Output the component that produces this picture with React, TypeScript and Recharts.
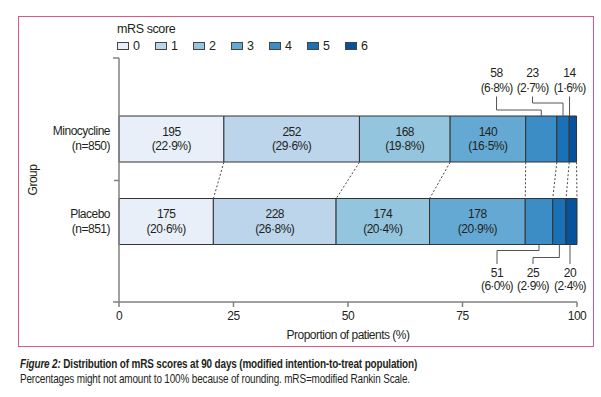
import React from 'react';
import {
  BarChart,
  Bar,
  XAxis,
  YAxis,
  Legend,
  LabelList,
  ReferenceLine,
} from 'recharts';

const groups = ['Minocycline', 'Placebo'];
const groupSizes = ['(n=850)', '(n=851)'];
const scores = ['0', '1', '2', '3', '4', '5', '6'];
const minocyclineCounts = [195, 252, 168, 140, 58, 23, 14];
const minocyclinePct = [22.9, 29.6, 19.8, 16.5, 6.8, 2.7, 1.6];
const placeboCounts = [175, 228, 174, 178, 51, 25, 20];
const placeboPct = [20.6, 26.8, 20.4, 20.9, 6.0, 2.9, 2.4];
const xTicks = [0, 25, 50, 75, 100];

const colors = ['#e8eff8', '#bcd5eb', '#93c5de', '#64a9d3', '#3c8cc6', '#1b71b6', '#08519b'];

const FONT = '"Liberation Sans", Arial, sans-serif';
const TEXT = '#231f20';
const AXIS = '#808080';
const BAR_SIZE = 46;

// small segments get their labels outside the bar, in fixed columns from the bar end
const labelColumn: Record<number, number> = { 4: 80, 5: 44, 6: 7 };
const elbowDepth: Record<number, number> = { 4: 6, 5: 13, 6: 0 };

const counts = [minocyclineCounts, placeboCounts];
const pcts = [minocyclinePct, placeboPct];

const data = groups.map((group, gi) => {
  const row: Record<string, string | number> = { group };
  scores.forEach((s, si) => {
    row[`s${s}`] = pcts[gi][si];
  });
  return row;
});

const cumulative = (vals: number[]) => {
  let sum = 0;
  return vals.map((v) => Math.round((sum += v) * 10) / 10);
};
const minoEdges = cumulative(minocyclinePct);
const placeboEdges = cumulative(placeboPct);

const fmtPct = (v: number) => `(${v.toFixed(1).replace('.', '·')}%)`;

const textStyle = { fontFamily: FONT, fontSize: 12, fill: TEXT, letterSpacing: -0.5 };

const segmentLabel = (si: number) => (props: any) => {
  const x = Number(props.x);
  const y = Number(props.y);
  const width = Number(props.width);
  const height = Number(props.height);
  const gi = props.index;
  const count = counts[gi][si];
  const pct = pcts[gi][si];

  if (si < 4) {
    const cx = x + width / 2;
    const cy = y + height / 2;
    return (
      <g>
        <text x={cx} y={cy - 7.5} textAnchor="middle" dominantBaseline="central" style={textStyle}>
          {count}
        </text>
        <text x={cx} y={cy + 7} textAnchor="middle" dominantBaseline="central" style={textStyle}>
          {fmtPct(pct)}
        </text>
      </g>
    );
  }

  const ppu = width / pct;
  const rest = pcts[gi].slice(si + 1).reduce((a, b) => a + b, 0);
  const barEnd = x + width + rest * ppu;
  const lx = barEnd - labelColumn[si];
  const cx = x + width / 2;
  const top = gi === 0;
  const edge = top ? y : y + height;
  const dir = top ? -1 : 1;
  const elbow = elbowDepth[si];
  const end = edge + dir * 19.5;
  const d =
    elbow > 0
      ? `M${cx},${edge}V${edge + dir * elbow}H${lx}V${end}`
      : `M${lx},${edge}V${end}`;
  const numY = top ? edge - 43 : edge + 28;
  const pctY = top ? edge - 28 : edge + 41;
  return (
    <g>
      <path d={d} fill="none" stroke="#555" strokeWidth={1} />
      <text x={lx} y={numY} textAnchor="middle" dominantBaseline="central" style={textStyle}>
        {count}
      </text>
      <text x={lx} y={pctY} textAnchor="middle" dominantBaseline="central" style={{ ...textStyle, letterSpacing: -0.7 }}>
        {fmtPct(pct)}
      </text>
    </g>
  );
};

const Connector = (props: any) => (
  <line
    x1={props.x1}
    y1={props.y1 + BAR_SIZE / 2}
    x2={props.x2}
    y2={props.y2 - BAR_SIZE / 2}
    stroke="#444"
    strokeWidth={1}
    strokeDasharray="2 2"
  />
);

const GroupTick = (props: any) => {
  const { x, y, payload } = props;
  const gi = groups.indexOf(payload.value);
  const half = payload.offset || 41.25;
  return (
    <g>
      <text x={x} y={y - 8} textAnchor="end" dominantBaseline="central" style={textStyle}>
        {payload.value}
      </text>
      <text x={x} y={y + 7} textAnchor="end" dominantBaseline="central" style={textStyle}>
        {groupSizes[gi]}
      </text>
      {gi === 0 && (
        <line x1={x + 4} x2={x + 9} y1={y + half} y2={y + half} stroke={AXIS} strokeWidth={1.5} />
      )}
    </g>
  );
};

const GroupAxisLabel = (props: any) => {
  const { x, y, width, height } = props.viewBox;
  const lx = x + 14;
  const ly = y + height / 2;
  return (
    <g>
      <text
        x={lx}
        y={ly}
        transform={`rotate(-90 ${lx} ${ly})`}
        textAnchor="middle"
        dominantBaseline="central"
        style={textStyle}
      >
        Group
      </text>
      <line x1={x + width - 6} y1={y} x2={x + width} y2={y} stroke={AXIS} strokeWidth={1.5} />
      <line x1={x + width - 6} y1={y + height} x2={x + width} y2={y + height} stroke={AXIS} strokeWidth={1.5} />
    </g>
  );
};

const MrsLegend = (props: any) => {
  const payload = props.payload && props.payload.length ? props.payload : scores.map((s, i) => ({ value: s, color: colors[i] }));
  return (
    <div style={{ fontFamily: FONT, fontSize: 12.5, color: TEXT, lineHeight: '16px', letterSpacing: -0.4 }}>
      <div>mRS score</div>
      <div style={{ display: 'flex', marginTop: 1 }}>
        {payload.map((p: any, i: number) => (
          <div key={i} style={{ width: 38, display: 'flex', alignItems: 'center' }}>
            <span
              style={{
                display: 'inline-block',
                width: 10,
                height: 6,
                background: p.color,
                border: '1px solid #444',
                marginRight: 4,
              }}
            />
            <span>{p.value}</span>
          </div>
        ))}
      </div>
    </div>
  );
};

export default function App() {
  return (
    <div
      style={{
        position: 'absolute',
        left: 0,
        top: 0,
        width: 601,
        height: 397,
        background: '#fff',
        fontFamily: FONT,
        color: TEXT,
      }}
    >
      <div
        style={{
          position: 'absolute',
          left: 18,
          top: 16,
          width: 574,
          height: 329,
          border: '1.5px solid #d85a82',
        }}
      />
      <div style={{ position: 'absolute', left: 0, top: 0 }}>
        <BarChart
          width={601}
          height={350}
          data={data}
          layout="vertical"
          margin={{ top: 58, right: 24, bottom: 18, left: 19 }}
          barSize={BAR_SIZE}
        >
          <XAxis
            type="number"
            domain={[0, 100]}
            ticks={xTicks}
            tickSize={5}
            tickMargin={4}
            axisLine={{ stroke: AXIS, strokeWidth: 1.5 }}
            tickLine={{ stroke: AXIS, strokeWidth: 1.5 }}
            tick={{ fontFamily: FONT, fontSize: 12, fill: TEXT, letterSpacing: -0.5 }}
            label={{
              value: 'Proportion of patients (%)',
              position: 'bottom',
              offset: -2,
              style: { fontFamily: FONT, fontSize: 12, fill: TEXT, letterSpacing: -0.5 },
            }}
          />
          <YAxis
            type="category"
            dataKey="group"
            width={100}
            padding={{ top: 40, bottom: 39 }}
            tickSize={0}
            tickMargin={9}
            tickLine={false}
            axisLine={{ stroke: AXIS, strokeWidth: 1.5 }}
            tick={<GroupTick />}
            label={GroupAxisLabel}
          />
          <Legend
            layout="horizontal"
            verticalAlign="middle"
            align="center"
            width={300}
            wrapperStyle={{ left: 117, top: 21 }}
            content={MrsLegend}
          />
          {scores.map((s, si) => (
            <Bar
              key={s}
              dataKey={`s${s}`}
              name={s}
              stackId="mrs"
              fill={colors[si]}
              stroke="#333"
              strokeWidth={1}
              isAnimationActive={false}
            >
              <LabelList dataKey={`s${s}`} content={segmentLabel(si)} />
            </Bar>
          ))}
          {minoEdges.map((edge, i) => (
            <ReferenceLine
              key={i}
              segment={[
                { x: edge, y: groups[0] },
                { x: placeboEdges[i], y: groups[1] },
              ]}
              shape={Connector}
            />
          ))}
        </BarChart>
      </div>
      <div
        style={{
          position: 'absolute',
          left: 20,
          top: 356,
          fontSize: 13,
          lineHeight: '15px',
          whiteSpace: 'nowrap',
          letterSpacing: -0.2,
          transform: 'scaleX(0.765)',
          transformOrigin: 'left top',
        }}
      >
        <div style={{ fontWeight: 700 }}>
          <i>Figure 2:</i> Distribution of mRS scores at 90 days (modified intention-to-treat population)
        </div>
        <div>Percentages might not amount to 100% because of rounding. mRS=modified Rankin Scale.</div>
      </div>
    </div>
  );
}
